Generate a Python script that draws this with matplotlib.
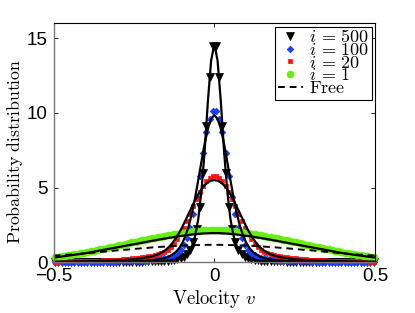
import numpy as np
import matplotlib
matplotlib.use("Agg")
import matplotlib.pyplot as plt

plt.rcParams['mathtext.fontset'] = 'cm'
plt.rcParams['font.family'] = ['Liberation Sans', 'DejaVu Sans']

# histogram bin centres (0.005 ... 0.495), right half, curves are symmetric
bin_half = np.arange(0.005, 0.5, 0.01)
p500_half = [14.5, 12.4, 9.1, 6.0, 3.7, 2.2, 1.35, 0.85, 0.55, 0.38,
             0.28, 0.21, 0.17, 0.14, 0.12, 0.10, 0.09, 0.08, 0.07, 0.065,
             0.06, 0.055, 0.05, 0.05, 0.045, 0.04, 0.04, 0.038, 0.036, 0.034,
             0.032, 0.03, 0.03, 0.028, 0.027, 0.026, 0.025, 0.024, 0.023, 0.022,
             0.022, 0.021, 0.021, 0.02, 0.02, 0.02, 0.02, 0.02, 0.02, 0.02]
p100_half = [10.1, 9.6, 8.7, 7.3, 5.8, 4.4, 3.2, 2.3, 1.6, 1.15,
             0.85, 0.63, 0.48, 0.38, 0.31, 0.26, 0.22, 0.19, 0.16, 0.14,
             0.12, 0.11, 0.10, 0.09, 0.08, 0.075, 0.07, 0.065, 0.06, 0.055,
             0.05, 0.048, 0.046, 0.044, 0.042, 0.04, 0.038, 0.036, 0.034, 0.032,
             0.03, 0.029, 0.028, 0.027, 0.026, 0.025, 0.024, 0.023, 0.022, 0.02]
p20_half = [5.75, 5.65, 5.45, 5.1, 4.7, 4.25, 3.75, 3.25, 2.75, 2.3,
            1.9, 1.55, 1.25, 1.02, 0.85, 0.72, 0.63, 0.56, 0.5, 0.45,
            0.41, 0.37, 0.34, 0.31, 0.28, 0.26, 0.24, 0.22, 0.2, 0.18,
            0.17, 0.16, 0.15, 0.14, 0.13, 0.12, 0.11, 0.1, 0.095, 0.09,
            0.085, 0.08, 0.075, 0.07, 0.065, 0.06, 0.058, 0.055, 0.052, 0.05]
p1_half = [2.15, 2.15, 2.14, 2.13, 2.11, 2.09, 2.07, 2.04, 2.01, 1.98,
           1.95, 1.92, 1.88, 1.84, 1.8, 1.76, 1.72, 1.68, 1.64, 1.6,
           1.56, 1.51, 1.47, 1.42, 1.37, 1.33, 1.28, 1.23, 1.18, 1.13,
           1.09, 1.04, 0.99, 0.95, 0.9, 0.86, 0.82, 0.77, 0.73, 0.69,
           0.65, 0.61, 0.57, 0.53, 0.49, 0.46, 0.42, 0.39, 0.36, 0.33]

# fitted curves on 0, 0.01 ... 0.5 (right half)
grid_half = np.arange(0, 0.501, 0.01)
fit500_half = [14.6, 13.5, 10.8, 7.5, 4.8, 2.9, 1.75, 1.05, 0.68, 0.45,
               0.32, 0.24, 0.19, 0.15, 0.12, 0.1, 0.085, 0.07, 0.06, 0.05,
               0.045, 0.04, 0.036, 0.033, 0.03, 0.028, 0.026, 0.024, 0.022, 0.02,
               0.019, 0.018, 0.017, 0.016, 0.015, 0.014, 0.013, 0.012, 0.012, 0.011,
               0.011, 0.01, 0.01, 0.01, 0.009, 0.009, 0.009, 0.008, 0.008, 0.008, 0.008]
fit100_half = [9.85, 9.6, 8.95, 7.95, 6.75, 5.5, 4.3, 3.25, 2.4, 1.75,
               1.27, 0.93, 0.69, 0.52, 0.4, 0.31, 0.25, 0.2, 0.165, 0.14,
               0.12, 0.1, 0.088, 0.077, 0.068, 0.06, 0.054, 0.048, 0.044, 0.04,
               0.036, 0.033, 0.03, 0.028, 0.026, 0.024, 0.022, 0.021, 0.02, 0.019,
               0.018, 0.017, 0.016, 0.015, 0.015, 0.014, 0.014, 0.013, 0.013, 0.012, 0.012]
fit20_half = [5.5, 5.46, 5.35, 5.15, 4.9, 4.55, 4.15, 3.7, 3.25, 2.8,
              2.35, 1.95, 1.6, 1.3, 1.05, 0.85, 0.7, 0.58, 0.49, 0.42,
              0.37, 0.33, 0.29, 0.26, 0.235, 0.21, 0.19, 0.175, 0.16, 0.145,
              0.135, 0.125, 0.115, 0.107, 0.1, 0.093, 0.087, 0.082, 0.077, 0.072,
              0.068, 0.064, 0.061, 0.058, 0.055, 0.052, 0.05, 0.048, 0.046, 0.044, 0.042]
fit1_half = [1.95, 1.95, 1.94, 1.93, 1.92, 1.9, 1.88, 1.86, 1.83, 1.8,
             1.77, 1.74, 1.71, 1.67, 1.64, 1.6, 1.57, 1.53, 1.49, 1.45,
             1.41, 1.37, 1.33, 1.29, 1.25, 1.21, 1.17, 1.13, 1.09, 1.05,
             1.01, 0.97, 0.93, 0.89, 0.85, 0.81, 0.77, 0.73, 0.69, 0.65,
             0.61, 0.58, 0.55, 0.52, 0.49, 0.46, 0.43, 0.4, 0.37, 0.34, 0.32]
free_half = [1.17, 1.17, 1.17, 1.16, 1.16, 1.15, 1.15, 1.14, 1.13, 1.13,
             1.12, 1.11, 1.1, 1.08, 1.07, 1.06, 1.04, 1.03, 1.01, 1.0,
             0.98, 0.96, 0.95, 0.93, 0.91, 0.89, 0.87, 0.85, 0.83, 0.82,
             0.8, 0.78, 0.76, 0.74, 0.72, 0.7, 0.68, 0.66, 0.64, 0.62,
             0.6, 0.58, 0.56, 0.55, 0.53, 0.51, 0.5, 0.48, 0.47, 0.46, 0.45]


def mirror_bins(half):
    half = np.asarray(half)
    return np.concatenate([half[::-1], half])


def mirror_grid(half):
    half = np.asarray(half)
    return np.concatenate([half[:0:-1], half])


v_bins = mirror_bins(bin_half) * np.repeat([-1, 1], len(bin_half))
v_grid = mirror_grid(grid_half) * np.concatenate([-np.ones(len(grid_half) - 1), np.ones(len(grid_half))])

fig = plt.figure(figsize=(4.15, 3.13), dpi=100)
ax = fig.add_axes([0.129, 0.162, 0.775, 0.764])

series = [
    (p500_half, 'v', 'k', 5.5, r'$i\,=\,500$'),
    (p100_half, 'D', '#1a3cff', 3.4, r'$i\,=\,100$'),
    (p20_half, 's', '#ff1010', 3.4, r'$i\,=\,20$'),
    (p1_half, 'o', '#66ee11', 5.0, r'$i\,=\,1$'),
]
handles = []
for vals, mk, col, ms, lab in series:
    h, = ax.plot(v_bins, mirror_bins(vals), linestyle='none', marker=mk, color=col,
                 markersize=ms, markeredgewidth=0.5, clip_on=False, label=lab)
    handles.append(h)

for fit in [fit500_half, fit100_half, fit20_half, fit1_half]:
    ax.plot(v_grid, mirror_grid(fit), color='k', lw=1.6)

hf, = ax.plot(v_grid, mirror_grid(free_half), color='k', lw=1.4, linestyle=(0, (3.5, 2.5)),
              label=r'$\mathrm{Free}$')
handles.append(hf)

ax.set_xlim(-0.5, 0.5)
ax.set_ylim(0, 16)
ax.set_xticks([-0.5, 0, 0.5])
ax.set_xticklabels(['\u22120.5', '0', '0.5'])
ax.set_yticks([0, 5, 10, 15])
ax.tick_params(direction='in', length=3, width=0.6, labelsize=13.5, top=True, right=True, pad=4)
for s in ['left', 'bottom']:
    ax.spines[s].set_color('#777777')
    ax.spines[s].set_linewidth(1.0)
for s in ['top', 'right']:
    ax.spines[s].set_linewidth(0.8)

ax.set_xlabel(r'$\mathrm{Velocity}\ v$', fontsize=13.5, labelpad=2)
ax.set_ylabel(r'$\mathrm{Probability\ distribution}$', fontsize=12.8)
ax.yaxis.set_label_coords(-0.09, 0.465)

leg = ax.legend(handles=handles, loc='upper right', fontsize=13, frameon=True,
                fancybox=False, framealpha=1, edgecolor='k', borderpad=0.15,
                labelspacing=-0.24, handlelength=1.4, handletextpad=0.3,
                borderaxespad=0.2)
leg.get_frame().set_linewidth(0.8)

fig.savefig('out.png', dpi=100)
